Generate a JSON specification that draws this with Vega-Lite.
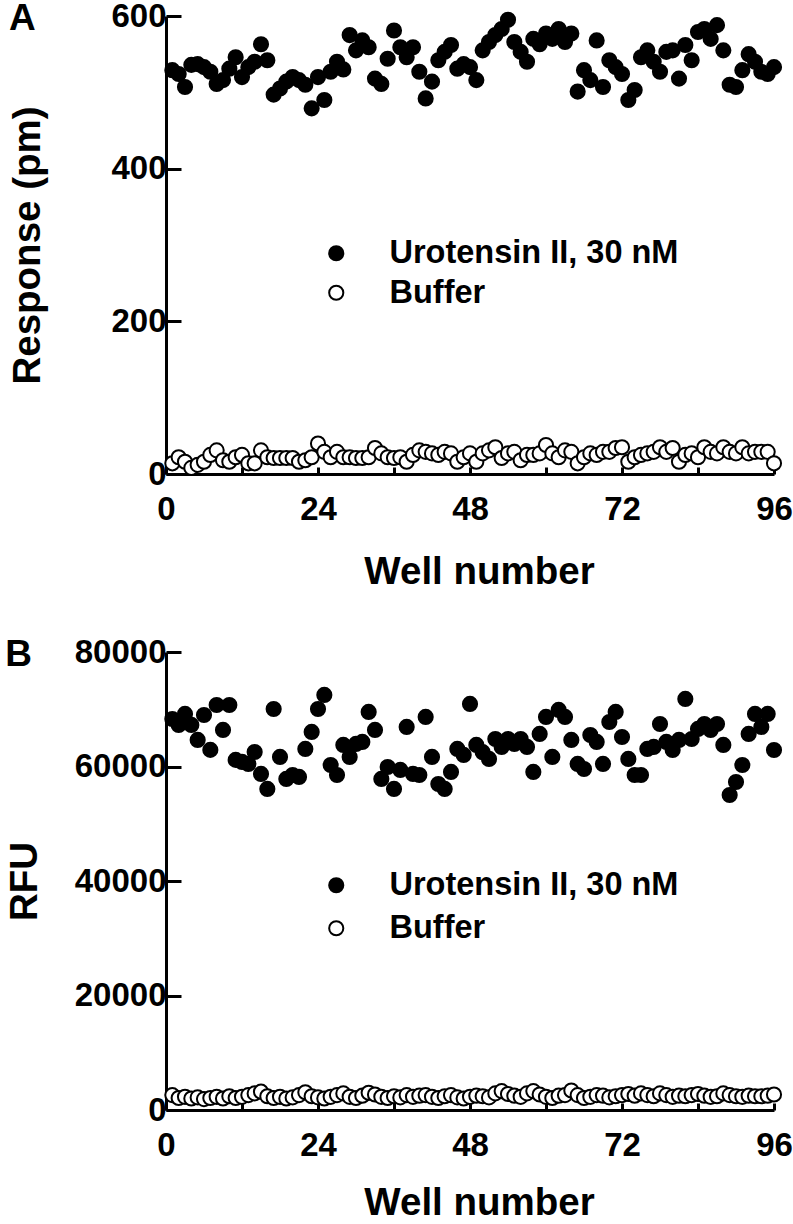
{
  "$schema": "https://vega.github.io/schema/vega-lite/v6.json",
  "background": "white",
  "padding": {"left": 5, "top": 0, "right": 1, "bottom": 0},
  "config": {
    "font": "Liberation Sans",
    "view": {"stroke": null},
    "axis": {
      "domainColor": "black", "domainWidth": 3, "tickColor": "black", "tickWidth": 3, "grid": false,
      "labelFont": "Liberation Sans", "labelFontSize": 33, "labelFontWeight": "bold", "labelColor": "black",
      "titleFont": "Liberation Sans", "titleFontSize": 38.5, "titleFontWeight": "bold", "titleColor": "black",
      "labelFlush": false, "labelOverlap": false
    },
    "legend": {
      "labelFont": "Liberation Sans", "labelFontSize": 32.5, "labelFontWeight": "bold", "labelColor": "black",
      "symbolStrokeColor": "black", "symbolStrokeWidth": 2, "symbolSize": 200, "symbolType": "circle", "padding": 0, "labelOffset": 37, "labelLimit": 500
    }
  },
  "datasets": {
    "a": [
      {"well":1,"series":"Urotensin II, 30 nM","value":529},{"well":2,"series":"Urotensin II, 30 nM","value":524},{"well":3,"series":"Urotensin II, 30 nM","value":507},{"well":4,"series":"Urotensin II, 30 nM","value":536},{"well":5,"series":"Urotensin II, 30 nM","value":537},{"well":6,"series":"Urotensin II, 30 nM","value":533},{"well":7,"series":"Urotensin II, 30 nM","value":527},{"well":8,"series":"Urotensin II, 30 nM","value":511},{"well":9,"series":"Urotensin II, 30 nM","value":516},{"well":10,"series":"Urotensin II, 30 nM","value":531},{"well":11,"series":"Urotensin II, 30 nM","value":546},{"well":12,"series":"Urotensin II, 30 nM","value":520},{"well":13,"series":"Urotensin II, 30 nM","value":533},{"well":14,"series":"Urotensin II, 30 nM","value":540},{"well":15,"series":"Urotensin II, 30 nM","value":563},{"well":16,"series":"Urotensin II, 30 nM","value":542},{"well":17,"series":"Urotensin II, 30 nM","value":497},{"well":18,"series":"Urotensin II, 30 nM","value":505},{"well":19,"series":"Urotensin II, 30 nM","value":514},{"well":20,"series":"Urotensin II, 30 nM","value":520},{"well":21,"series":"Urotensin II, 30 nM","value":516},{"well":22,"series":"Urotensin II, 30 nM","value":510},{"well":23,"series":"Urotensin II, 30 nM","value":479},{"well":24,"series":"Urotensin II, 30 nM","value":520},{"well":25,"series":"Urotensin II, 30 nM","value":490},{"well":26,"series":"Urotensin II, 30 nM","value":527},{"well":27,"series":"Urotensin II, 30 nM","value":540},{"well":28,"series":"Urotensin II, 30 nM","value":530},{"well":29,"series":"Urotensin II, 30 nM","value":575},{"well":30,"series":"Urotensin II, 30 nM","value":555},{"well":31,"series":"Urotensin II, 30 nM","value":568},{"well":32,"series":"Urotensin II, 30 nM","value":559},{"well":33,"series":"Urotensin II, 30 nM","value":518},{"well":34,"series":"Urotensin II, 30 nM","value":511},{"well":35,"series":"Urotensin II, 30 nM","value":544},{"well":36,"series":"Urotensin II, 30 nM","value":581},{"well":37,"series":"Urotensin II, 30 nM","value":559},{"well":38,"series":"Urotensin II, 30 nM","value":546},{"well":39,"series":"Urotensin II, 30 nM","value":559},{"well":40,"series":"Urotensin II, 30 nM","value":527},{"well":41,"series":"Urotensin II, 30 nM","value":492},{"well":42,"series":"Urotensin II, 30 nM","value":514},{"well":43,"series":"Urotensin II, 30 nM","value":542},{"well":44,"series":"Urotensin II, 30 nM","value":553},{"well":45,"series":"Urotensin II, 30 nM","value":562},{"well":46,"series":"Urotensin II, 30 nM","value":531},{"well":47,"series":"Urotensin II, 30 nM","value":537},{"well":48,"series":"Urotensin II, 30 nM","value":533},{"well":49,"series":"Urotensin II, 30 nM","value":516},{"well":50,"series":"Urotensin II, 30 nM","value":555},{"well":51,"series":"Urotensin II, 30 nM","value":566},{"well":52,"series":"Urotensin II, 30 nM","value":575},{"well":53,"series":"Urotensin II, 30 nM","value":583},{"well":54,"series":"Urotensin II, 30 nM","value":595},{"well":55,"series":"Urotensin II, 30 nM","value":566},{"well":56,"series":"Urotensin II, 30 nM","value":553},{"well":57,"series":"Urotensin II, 30 nM","value":540},{"well":58,"series":"Urotensin II, 30 nM","value":570},{"well":59,"series":"Urotensin II, 30 nM","value":563},{"well":60,"series":"Urotensin II, 30 nM","value":577},{"well":61,"series":"Urotensin II, 30 nM","value":570},{"well":62,"series":"Urotensin II, 30 nM","value":583},{"well":63,"series":"Urotensin II, 30 nM","value":566},{"well":64,"series":"Urotensin II, 30 nM","value":577},{"well":65,"series":"Urotensin II, 30 nM","value":501},{"well":66,"series":"Urotensin II, 30 nM","value":529},{"well":67,"series":"Urotensin II, 30 nM","value":516},{"well":68,"series":"Urotensin II, 30 nM","value":568},{"well":69,"series":"Urotensin II, 30 nM","value":507},{"well":70,"series":"Urotensin II, 30 nM","value":542},{"well":71,"series":"Urotensin II, 30 nM","value":533},{"well":72,"series":"Urotensin II, 30 nM","value":524},{"well":73,"series":"Urotensin II, 30 nM","value":490},{"well":74,"series":"Urotensin II, 30 nM","value":503},{"well":75,"series":"Urotensin II, 30 nM","value":546},{"well":76,"series":"Urotensin II, 30 nM","value":555},{"well":77,"series":"Urotensin II, 30 nM","value":540},{"well":78,"series":"Urotensin II, 30 nM","value":527},{"well":79,"series":"Urotensin II, 30 nM","value":553},{"well":80,"series":"Urotensin II, 30 nM","value":555},{"well":81,"series":"Urotensin II, 30 nM","value":518},{"well":82,"series":"Urotensin II, 30 nM","value":562},{"well":83,"series":"Urotensin II, 30 nM","value":542},{"well":84,"series":"Urotensin II, 30 nM","value":579},{"well":85,"series":"Urotensin II, 30 nM","value":583},{"well":86,"series":"Urotensin II, 30 nM","value":570},{"well":87,"series":"Urotensin II, 30 nM","value":588},{"well":88,"series":"Urotensin II, 30 nM","value":555},{"well":89,"series":"Urotensin II, 30 nM","value":510},{"well":90,"series":"Urotensin II, 30 nM","value":507},{"well":91,"series":"Urotensin II, 30 nM","value":529},{"well":92,"series":"Urotensin II, 30 nM","value":550},{"well":93,"series":"Urotensin II, 30 nM","value":540},{"well":94,"series":"Urotensin II, 30 nM","value":527},{"well":95,"series":"Urotensin II, 30 nM","value":524},{"well":96,"series":"Urotensin II, 30 nM","value":533},
      {"well":1,"series":"Buffer","value":14},{"well":2,"series":"Buffer","value":22},{"well":3,"series":"Buffer","value":16},{"well":4,"series":"Buffer","value":8},{"well":5,"series":"Buffer","value":12},{"well":6,"series":"Buffer","value":16},{"well":7,"series":"Buffer","value":25},{"well":8,"series":"Buffer","value":31},{"well":9,"series":"Buffer","value":18},{"well":10,"series":"Buffer","value":16},{"well":11,"series":"Buffer","value":22},{"well":12,"series":"Buffer","value":25},{"well":13,"series":"Buffer","value":14},{"well":14,"series":"Buffer","value":14},{"well":15,"series":"Buffer","value":31},{"well":16,"series":"Buffer","value":22},{"well":17,"series":"Buffer","value":21},{"well":18,"series":"Buffer","value":21},{"well":19,"series":"Buffer","value":21},{"well":20,"series":"Buffer","value":21},{"well":21,"series":"Buffer","value":16},{"well":22,"series":"Buffer","value":18},{"well":23,"series":"Buffer","value":22},{"well":24,"series":"Buffer","value":40},{"well":25,"series":"Buffer","value":29},{"well":26,"series":"Buffer","value":22},{"well":27,"series":"Buffer","value":29},{"well":28,"series":"Buffer","value":22},{"well":29,"series":"Buffer","value":22},{"well":30,"series":"Buffer","value":21},{"well":31,"series":"Buffer","value":21},{"well":32,"series":"Buffer","value":22},{"well":33,"series":"Buffer","value":34},{"well":34,"series":"Buffer","value":27},{"well":35,"series":"Buffer","value":22},{"well":36,"series":"Buffer","value":21},{"well":37,"series":"Buffer","value":22},{"well":38,"series":"Buffer","value":16},{"well":39,"series":"Buffer","value":25},{"well":40,"series":"Buffer","value":31},{"well":41,"series":"Buffer","value":29},{"well":42,"series":"Buffer","value":27},{"well":43,"series":"Buffer","value":25},{"well":44,"series":"Buffer","value":29},{"well":45,"series":"Buffer","value":27},{"well":46,"series":"Buffer","value":16},{"well":47,"series":"Buffer","value":22},{"well":48,"series":"Buffer","value":27},{"well":49,"series":"Buffer","value":16},{"well":50,"series":"Buffer","value":27},{"well":51,"series":"Buffer","value":31},{"well":52,"series":"Buffer","value":35},{"well":53,"series":"Buffer","value":21},{"well":54,"series":"Buffer","value":27},{"well":55,"series":"Buffer","value":29},{"well":56,"series":"Buffer","value":18},{"well":57,"series":"Buffer","value":25},{"well":58,"series":"Buffer","value":25},{"well":59,"series":"Buffer","value":27},{"well":60,"series":"Buffer","value":38},{"well":61,"series":"Buffer","value":27},{"well":62,"series":"Buffer","value":22},{"well":63,"series":"Buffer","value":31},{"well":64,"series":"Buffer","value":29},{"well":65,"series":"Buffer","value":14},{"well":66,"series":"Buffer","value":22},{"well":67,"series":"Buffer","value":27},{"well":68,"series":"Buffer","value":25},{"well":69,"series":"Buffer","value":29},{"well":70,"series":"Buffer","value":29},{"well":71,"series":"Buffer","value":34},{"well":72,"series":"Buffer","value":35},{"well":73,"series":"Buffer","value":16},{"well":74,"series":"Buffer","value":22},{"well":75,"series":"Buffer","value":25},{"well":76,"series":"Buffer","value":27},{"well":77,"series":"Buffer","value":29},{"well":78,"series":"Buffer","value":35},{"well":79,"series":"Buffer","value":29},{"well":80,"series":"Buffer","value":34},{"well":81,"series":"Buffer","value":16},{"well":82,"series":"Buffer","value":25},{"well":83,"series":"Buffer","value":27},{"well":84,"series":"Buffer","value":22},{"well":85,"series":"Buffer","value":35},{"well":86,"series":"Buffer","value":29},{"well":87,"series":"Buffer","value":27},{"well":88,"series":"Buffer","value":35},{"well":89,"series":"Buffer","value":29},{"well":90,"series":"Buffer","value":27},{"well":91,"series":"Buffer","value":35},{"well":92,"series":"Buffer","value":27},{"well":93,"series":"Buffer","value":29},{"well":94,"series":"Buffer","value":29},{"well":95,"series":"Buffer","value":29},{"well":96,"series":"Buffer","value":14}
    ],
    "b": [
      {"well":1,"series":"Urotensin II, 30 nM","value":68300},{"well":2,"series":"Urotensin II, 30 nM","value":67260},{"well":3,"series":"Urotensin II, 30 nM","value":69180},{"well":4,"series":"Urotensin II, 30 nM","value":67260},{"well":5,"series":"Urotensin II, 30 nM","value":64640},{"well":6,"series":"Urotensin II, 30 nM","value":69000},{"well":7,"series":"Urotensin II, 30 nM","value":62900},{"well":8,"series":"Urotensin II, 30 nM","value":70750},{"well":9,"series":"Urotensin II, 30 nM","value":66390},{"well":10,"series":"Urotensin II, 30 nM","value":70750},{"well":11,"series":"Urotensin II, 30 nM","value":61150},{"well":12,"series":"Urotensin II, 30 nM","value":60800},{"well":13,"series":"Urotensin II, 30 nM","value":60450},{"well":14,"series":"Urotensin II, 30 nM","value":62540},{"well":15,"series":"Urotensin II, 30 nM","value":58700},{"well":16,"series":"Urotensin II, 30 nM","value":56080},{"well":17,"series":"Urotensin II, 30 nM","value":70050},{"well":18,"series":"Urotensin II, 30 nM","value":61670},{"well":19,"series":"Urotensin II, 30 nM","value":57830},{"well":20,"series":"Urotensin II, 30 nM","value":58520},{"well":21,"series":"Urotensin II, 30 nM","value":58180},{"well":22,"series":"Urotensin II, 30 nM","value":63070},{"well":23,"series":"Urotensin II, 30 nM","value":66040},{"well":24,"series":"Urotensin II, 30 nM","value":70050},{"well":25,"series":"Urotensin II, 30 nM","value":72500},{"well":26,"series":"Urotensin II, 30 nM","value":60270},{"well":27,"series":"Urotensin II, 30 nM","value":58520},{"well":28,"series":"Urotensin II, 30 nM","value":63770},{"well":29,"series":"Urotensin II, 30 nM","value":61670},{"well":30,"series":"Urotensin II, 30 nM","value":63940},{"well":31,"series":"Urotensin II, 30 nM","value":64290},{"well":32,"series":"Urotensin II, 30 nM","value":69530},{"well":33,"series":"Urotensin II, 30 nM","value":66390},{"well":34,"series":"Urotensin II, 30 nM","value":57830},{"well":35,"series":"Urotensin II, 30 nM","value":59920},{"well":36,"series":"Urotensin II, 30 nM","value":56080},{"well":37,"series":"Urotensin II, 30 nM","value":59400},{"well":38,"series":"Urotensin II, 30 nM","value":66910},{"well":39,"series":"Urotensin II, 30 nM","value":58700},{"well":40,"series":"Urotensin II, 30 nM","value":58520},{"well":41,"series":"Urotensin II, 30 nM","value":68660},{"well":42,"series":"Urotensin II, 30 nM","value":61670},{"well":43,"series":"Urotensin II, 30 nM","value":56950},{"well":44,"series":"Urotensin II, 30 nM","value":56080},{"well":45,"series":"Urotensin II, 30 nM","value":59050},{"well":46,"series":"Urotensin II, 30 nM","value":63070},{"well":47,"series":"Urotensin II, 30 nM","value":62020},{"well":48,"series":"Urotensin II, 30 nM","value":70930},{"well":49,"series":"Urotensin II, 30 nM","value":63770},{"well":50,"series":"Urotensin II, 30 nM","value":62500},{"well":51,"series":"Urotensin II, 30 nM","value":61320},{"well":52,"series":"Urotensin II, 30 nM","value":64810},{"well":53,"series":"Urotensin II, 30 nM","value":63420},{"well":54,"series":"Urotensin II, 30 nM","value":64810},{"well":55,"series":"Urotensin II, 30 nM","value":63940},{"well":56,"series":"Urotensin II, 30 nM","value":64810},{"well":57,"series":"Urotensin II, 30 nM","value":63420},{"well":58,"series":"Urotensin II, 30 nM","value":59050},{"well":59,"series":"Urotensin II, 30 nM","value":65690},{"well":60,"series":"Urotensin II, 30 nM","value":68660},{"well":61,"series":"Urotensin II, 30 nM","value":61670},{"well":62,"series":"Urotensin II, 30 nM","value":69880},{"well":63,"series":"Urotensin II, 30 nM","value":68660},{"well":64,"series":"Urotensin II, 30 nM","value":64640},{"well":65,"series":"Urotensin II, 30 nM","value":60450},{"well":66,"series":"Urotensin II, 30 nM","value":59570},{"well":67,"series":"Urotensin II, 30 nM","value":65510},{"well":68,"series":"Urotensin II, 30 nM","value":64290},{"well":69,"series":"Urotensin II, 30 nM","value":60450},{"well":70,"series":"Urotensin II, 30 nM","value":67780},{"well":71,"series":"Urotensin II, 30 nM","value":69530},{"well":72,"series":"Urotensin II, 30 nM","value":65160},{"well":73,"series":"Urotensin II, 30 nM","value":61320},{"well":74,"series":"Urotensin II, 30 nM","value":58520},{"well":75,"series":"Urotensin II, 30 nM","value":58520},{"well":76,"series":"Urotensin II, 30 nM","value":63070},{"well":77,"series":"Urotensin II, 30 nM","value":63420},{"well":78,"series":"Urotensin II, 30 nM","value":67430},{"well":79,"series":"Urotensin II, 30 nM","value":64290},{"well":80,"series":"Urotensin II, 30 nM","value":62890},{"well":81,"series":"Urotensin II, 30 nM","value":64640},{"well":82,"series":"Urotensin II, 30 nM","value":71800},{"well":83,"series":"Urotensin II, 30 nM","value":64810},{"well":84,"series":"Urotensin II, 30 nM","value":66560},{"well":85,"series":"Urotensin II, 30 nM","value":67430},{"well":86,"series":"Urotensin II, 30 nM","value":66390},{"well":87,"series":"Urotensin II, 30 nM","value":67430},{"well":88,"series":"Urotensin II, 30 nM","value":63770},{"well":89,"series":"Urotensin II, 30 nM","value":55030},{"well":90,"series":"Urotensin II, 30 nM","value":57300},{"well":91,"series":"Urotensin II, 30 nM","value":60270},{"well":92,"series":"Urotensin II, 30 nM","value":65690},{"well":93,"series":"Urotensin II, 30 nM","value":69180},{"well":94,"series":"Urotensin II, 30 nM","value":66910},{"well":95,"series":"Urotensin II, 30 nM","value":69180},{"well":96,"series":"Urotensin II, 30 nM","value":62890},
      {"well":1,"series":"Buffer","value":2600},{"well":2,"series":"Buffer","value":2100},{"well":3,"series":"Buffer","value":2300},{"well":4,"series":"Buffer","value":2000},{"well":5,"series":"Buffer","value":2200},{"well":6,"series":"Buffer","value":1900},{"well":7,"series":"Buffer","value":2100},{"well":8,"series":"Buffer","value":2300},{"well":9,"series":"Buffer","value":2000},{"well":10,"series":"Buffer","value":2400},{"well":11,"series":"Buffer","value":2100},{"well":12,"series":"Buffer","value":2300},{"well":13,"series":"Buffer","value":2600},{"well":14,"series":"Buffer","value":2900},{"well":15,"series":"Buffer","value":3200},{"well":16,"series":"Buffer","value":2400},{"well":17,"series":"Buffer","value":2100},{"well":18,"series":"Buffer","value":2300},{"well":19,"series":"Buffer","value":2000},{"well":20,"series":"Buffer","value":2200},{"well":21,"series":"Buffer","value":2600},{"well":22,"series":"Buffer","value":3100},{"well":23,"series":"Buffer","value":2400},{"well":24,"series":"Buffer","value":2200},{"well":25,"series":"Buffer","value":2000},{"well":26,"series":"Buffer","value":2300},{"well":27,"series":"Buffer","value":2600},{"well":28,"series":"Buffer","value":2900},{"well":29,"series":"Buffer","value":2300},{"well":30,"series":"Buffer","value":2100},{"well":31,"series":"Buffer","value":2500},{"well":32,"series":"Buffer","value":3000},{"well":33,"series":"Buffer","value":2700},{"well":34,"series":"Buffer","value":2300},{"well":35,"series":"Buffer","value":2100},{"well":36,"series":"Buffer","value":2400},{"well":37,"series":"Buffer","value":2200},{"well":38,"series":"Buffer","value":2600},{"well":39,"series":"Buffer","value":2300},{"well":40,"series":"Buffer","value":2500},{"well":41,"series":"Buffer","value":2600},{"well":42,"series":"Buffer","value":2300},{"well":43,"series":"Buffer","value":2100},{"well":44,"series":"Buffer","value":2400},{"well":45,"series":"Buffer","value":2600},{"well":46,"series":"Buffer","value":2200},{"well":47,"series":"Buffer","value":2000},{"well":48,"series":"Buffer","value":2300},{"well":49,"series":"Buffer","value":2500},{"well":50,"series":"Buffer","value":2400},{"well":51,"series":"Buffer","value":2200},{"well":52,"series":"Buffer","value":2900},{"well":53,"series":"Buffer","value":3300},{"well":54,"series":"Buffer","value":2800},{"well":55,"series":"Buffer","value":2500},{"well":56,"series":"Buffer","value":2300},{"well":57,"series":"Buffer","value":2900},{"well":58,"series":"Buffer","value":3300},{"well":59,"series":"Buffer","value":2700},{"well":60,"series":"Buffer","value":2300},{"well":61,"series":"Buffer","value":2100},{"well":62,"series":"Buffer","value":2500},{"well":63,"series":"Buffer","value":2600},{"well":64,"series":"Buffer","value":3400},{"well":65,"series":"Buffer","value":2600},{"well":66,"series":"Buffer","value":2100},{"well":67,"series":"Buffer","value":2300},{"well":68,"series":"Buffer","value":2600},{"well":69,"series":"Buffer","value":2500},{"well":70,"series":"Buffer","value":2200},{"well":71,"series":"Buffer","value":2400},{"well":72,"series":"Buffer","value":2600},{"well":73,"series":"Buffer","value":2800},{"well":74,"series":"Buffer","value":2500},{"well":75,"series":"Buffer","value":2900},{"well":76,"series":"Buffer","value":2600},{"well":77,"series":"Buffer","value":2400},{"well":78,"series":"Buffer","value":2900},{"well":79,"series":"Buffer","value":2600},{"well":80,"series":"Buffer","value":2300},{"well":81,"series":"Buffer","value":2500},{"well":82,"series":"Buffer","value":2400},{"well":83,"series":"Buffer","value":2600},{"well":84,"series":"Buffer","value":2800},{"well":85,"series":"Buffer","value":2500},{"well":86,"series":"Buffer","value":2300},{"well":87,"series":"Buffer","value":2400},{"well":88,"series":"Buffer","value":2900},{"well":89,"series":"Buffer","value":2600},{"well":90,"series":"Buffer","value":2400},{"well":91,"series":"Buffer","value":2300},{"well":92,"series":"Buffer","value":2500},{"well":93,"series":"Buffer","value":2400},{"well":94,"series":"Buffer","value":2400},{"well":95,"series":"Buffer","value":2500},{"well":96,"series":"Buffer","value":2700}
    ]
  },
  "bounds": "flush",
  "spacing": 178,
  "resolve": {"scale": {"fill": "independent"}, "legend": {"fill": "independent"}},
  "vconcat": [
    {
      "width": 608, "height": 458,
      "title": {"text": "A", "anchor": "start", "frame": "bounds", "font": "Liberation Sans", "fontSize": 37, "fontWeight": "bold", "color": "black", "offset": -38, "baseline": "middle", "dy": 18},
      "data": {"name": "a"},
      "mark": {"type": "circle", "size": 200, "stroke": "black", "strokeWidth": 2, "opacity": 1},
      "encoding": {
        "x": {"field": "well", "type": "quantitative", "scale": {"domain": [0, 96], "nice": false, "zero": false},
          "axis": {"title": "Well number", "values": [0,12,24,36,48,60,72,84,96], "labelExpr": "datum.value % 24 === 0 ? datum.label : ''", "tickSize": -7, "labelPadding": 26, "titlePadding": 27, "titleX": 313}},
        "y": {"field": "value", "type": "quantitative", "scale": {"domain": [0, 600], "nice": false},
          "axis": {"title": "Response (pm)", "values": [0,200,400,600], "tickSize": -15, "labelPadding": 15, "titlePadding": 63}},
        "fill": {"field": "series", "type": "nominal", "scale": {"domain": ["Urotensin II, 30 nM", "Buffer"], "range": ["black", "white"]},
          "legend": {"title": null, "orient": "none", "legendX": 154, "legendY": 221, "rowPadding": 6.5}}
      }
    },
    {
      "width": 608, "height": 458,
      "title": {"text": "B", "anchor": "start", "frame": "bounds", "font": "Liberation Sans", "fontSize": 37, "fontWeight": "bold", "color": "black", "offset": -38, "baseline": "middle", "dy": 18},
      "data": {"name": "b"},
      "mark": {"type": "circle", "size": 200, "stroke": "black", "strokeWidth": 2, "opacity": 1},
      "encoding": {
        "x": {"field": "well", "type": "quantitative", "scale": {"domain": [0, 96], "nice": false, "zero": false},
          "axis": {"title": "Well number", "values": [0,12,24,36,48,60,72,84,96], "labelExpr": "datum.value % 24 === 0 ? datum.label : ''", "tickSize": -7, "labelPadding": 26, "titlePadding": 22, "titleX": 313}},
        "y": {"field": "value", "type": "quantitative", "scale": {"domain": [0, 80000], "nice": false},
          "axis": {"title": "RFU", "values": [0,20000,40000,60000,80000], "format": "d", "tickSize": -15, "labelPadding": 15, "titlePadding": 30}},
        "fill": {"field": "series", "type": "nominal", "scale": {"domain": ["Urotensin II, 30 nM", "Buffer"], "range": ["black", "white"]},
          "legend": {"title": null, "orient": "none", "legendX": 154, "legendY": 217, "rowPadding": 10}}
      }
    }
  ]
}
